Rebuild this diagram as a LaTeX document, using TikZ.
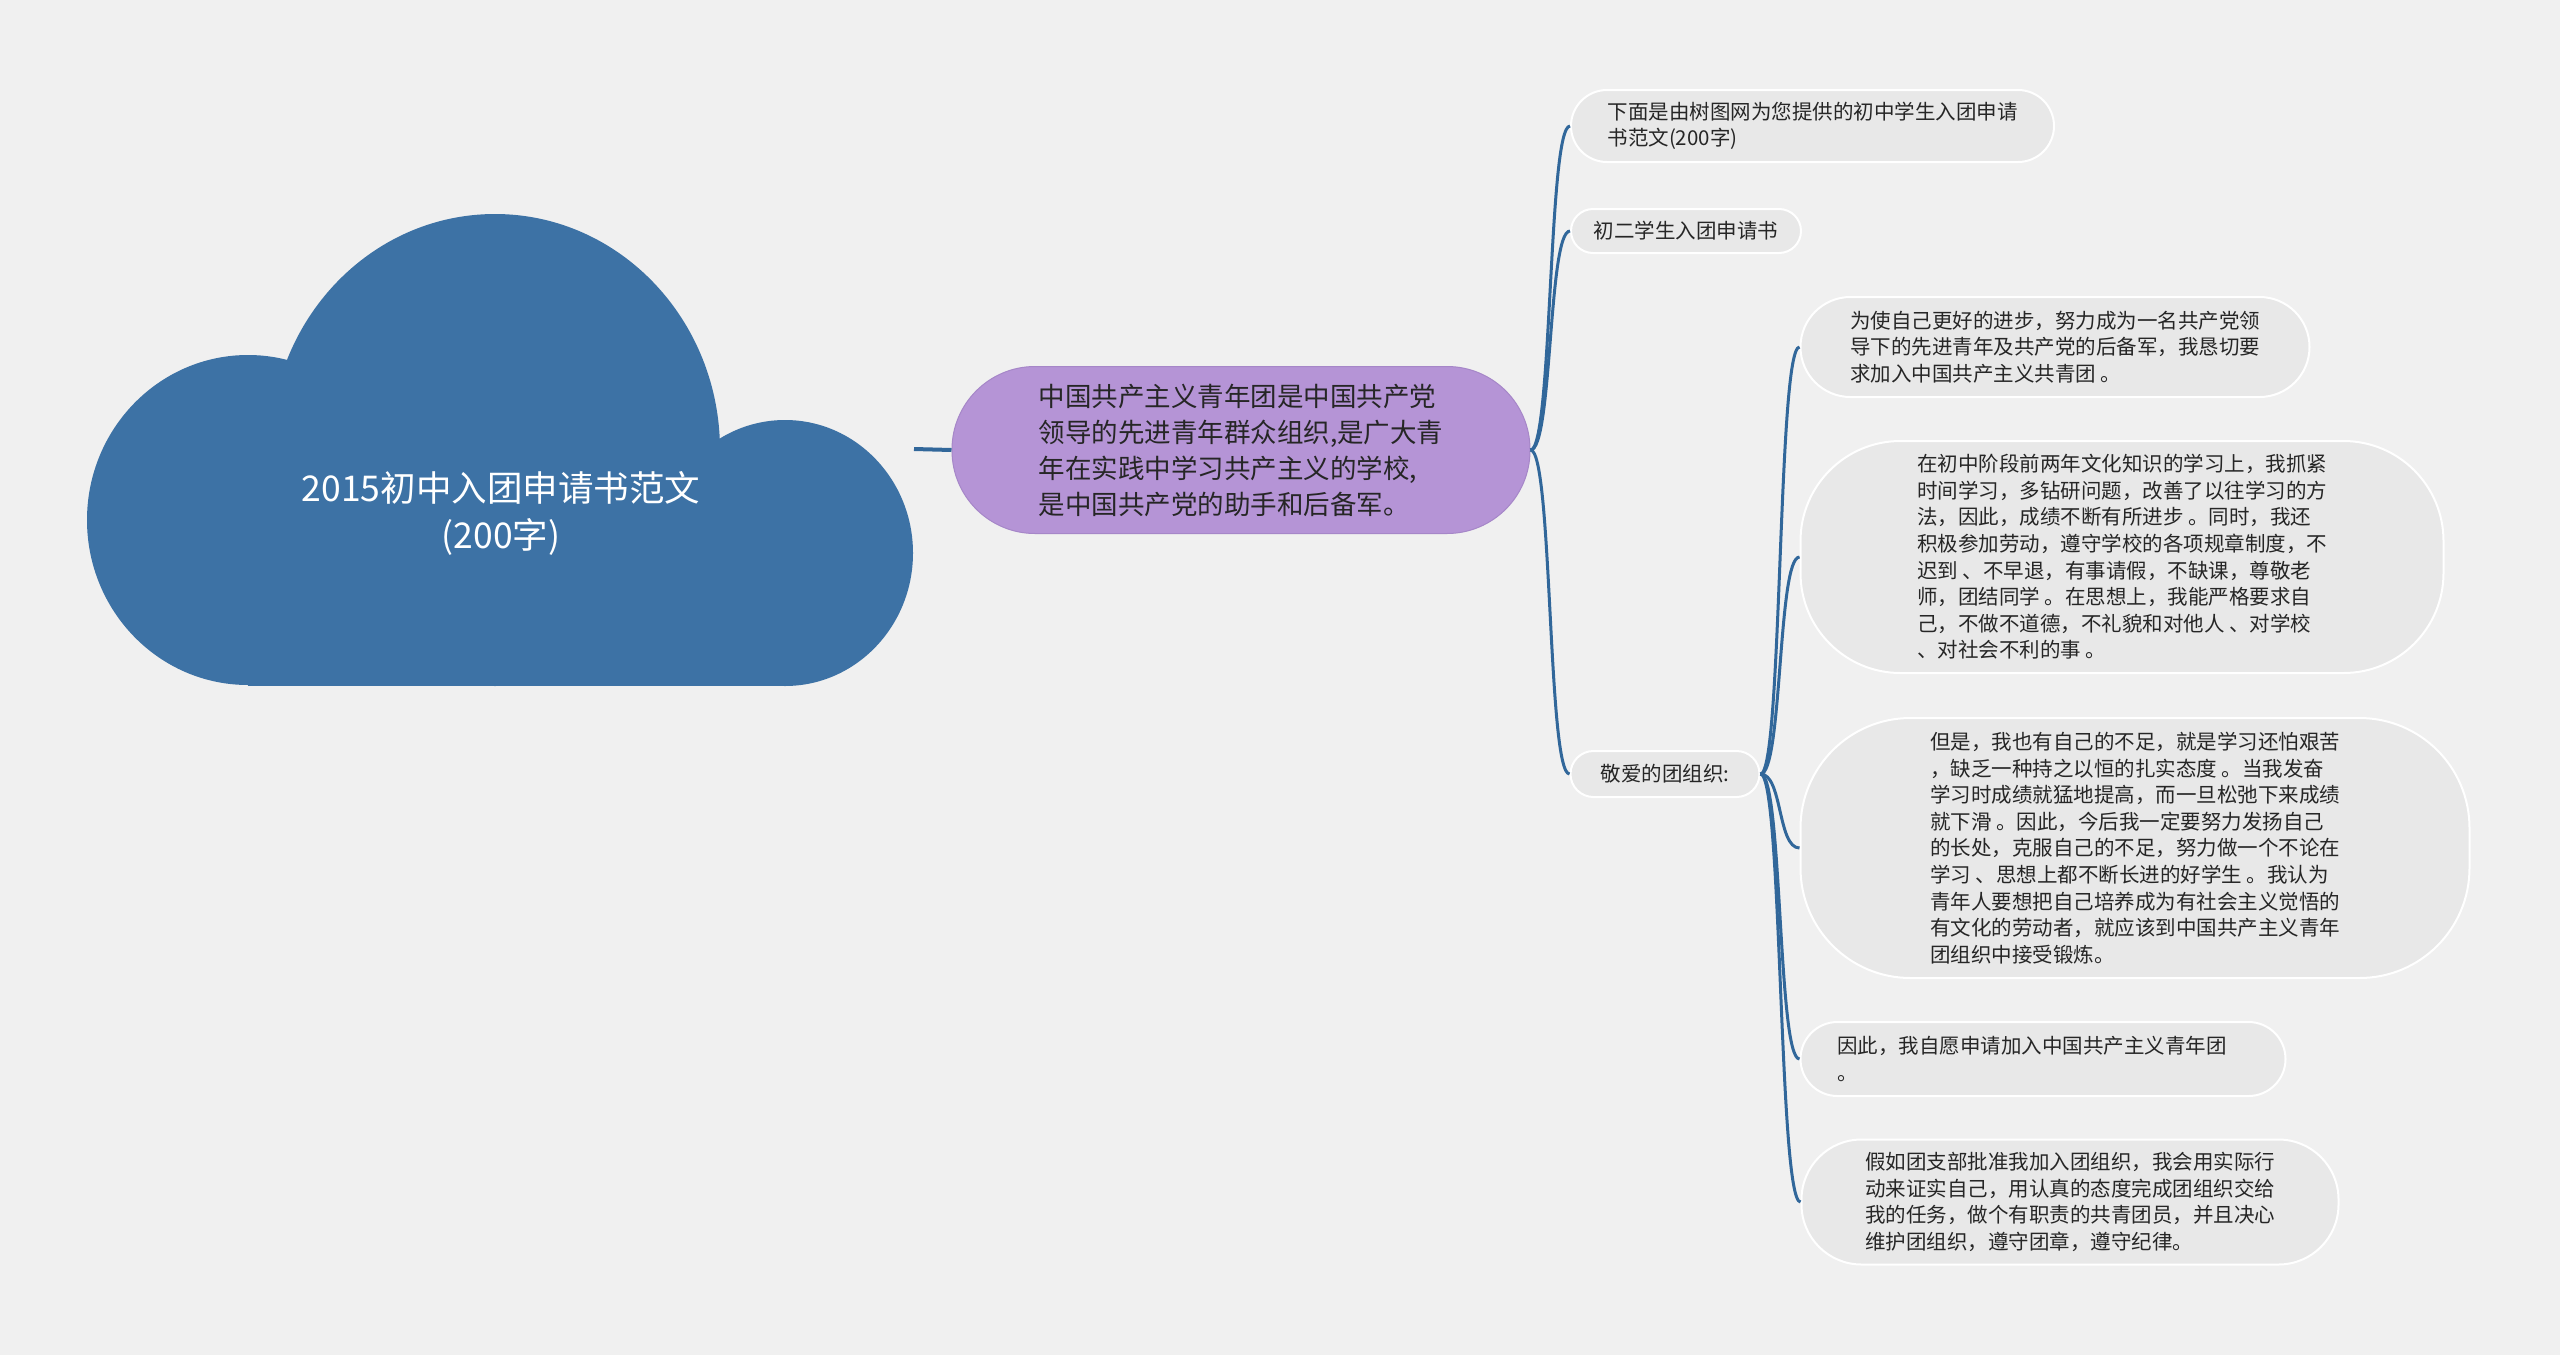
\documentclass[tikz,border=0pt]{standalone}
\usepackage{fontspec}
\setmainfont{Noto Sans CJK SC}
\usetikzlibrary{calc}
\definecolor{bgc}{HTML}{F0F0F0}
\definecolor{cloudc}{HTML}{3D72A5}
\definecolor{purplec}{HTML}{B594D6}
\definecolor{purpleb}{HTML}{A687C8}
\definecolor{leafc}{HTML}{E8E8E8}
\definecolor{linkc}{HTML}{31679A}
\definecolor{txtc}{HTML}{262626}
\tikzset{
  leaf/.style={draw=white, line width=2pt, fill=leafc, align=left, text=txtc,
    font=\fontsize{20.5}{26.6}\selectfont, inner sep=0pt},
  conn/.style={draw=linkc, line width=3pt},
}
\begin{document}
\begin{tikzpicture}[x=1pt,y=-1pt]
\fill[bgc] (0,0) rectangle (2560,1355);
\useasboundingbox (0,0) rectangle (2560,1355);
% cloud
\fill[cloudc] (248,520) ellipse [x radius=161, y radius=165];
\fill[cloudc] (495,450) ellipse [x radius=225, y radius=236];
\fill[cloudc] (785,553) ellipse [x radius=128, y radius=133];
\fill[cloudc] (248,520) rectangle (785,686);
\node[text=white, align=center, font=\fontsize{35.5}{47}\selectfont, inner sep=0pt] (title) at (501,513) {2015初中入团申请书范文\\(200字)};
\coordinate (cl) at (914,449);
% purple
\node[draw=purpleb, line width=1pt, fill=purplec, align=left, text=txtc,
  font=\fontsize{26.5}{36}\selectfont, inner sep=0pt,
  minimum width=578, minimum height=167, rounded corners=83] (pp) at (1241,450)
  {中国共产主义青年团是中国共产党\\领导的先进青年群众组织,是广大青\\年在实践中学习共产主义的学校,\\是中国共产党的助手和后备军。};
\draw[draw=linkc, line width=4pt] (cl) -- (pp.west);
% level 2
\node[leaf, minimum width=483, minimum height=72, rounded corners=36] (n1) at (1812.5,126)
  {下面是由树图网为您提供的初中学生入团申请\\书范文(200字)};
\node[leaf, minimum width=230, minimum height=44, rounded corners=22] (n2) at (1686,231)
  {初二学生入团申请书};
\node[leaf, minimum width=189, minimum height=46, rounded corners=23] (n3) at (1665,774)
  {敬爱的团组织:};
% level 3
\node[leaf, minimum width=509, minimum height=100, rounded corners=50] (m1) at (2055,347)
  {为使自己更好的进步，努力成为一名共产党领\\导下的先进青年及共产党的后备军，我恳切要\\求加入中国共产主义共青团 。};
\node[leaf, minimum width=643, minimum height=232, rounded corners=100] (m2) at (2122,557)
  {在初中阶段前两年文化知识的学习上，我抓紧\\时间学习，多钻研问题，改善了以往学习的方\\法，因此，成绩不断有所进步 。同时，我还\\积极参加劳动，遵守学校的各项规章制度，不\\迟到 、不早退，有事请假，不缺课，尊敬老\\师，团结同学 。在思想上，我能严格要求自\\己，不做不道德，不礼貌和对他人 、对学校\\、对社会不利的事 。};
\node[leaf, minimum width=669, minimum height=260, rounded corners=110] (m3) at (2135,848)
  {但是，我也有自己的不足，就是学习还怕艰苦\\，缺乏一种持之以恒的扎实态度 。当我发奋\\学习时成绩就猛地提高，而一旦松弛下来成绩\\就下滑 。因此，今后我一定要努力发扬自己\\的长处，克服自己的不足，努力做一个不论在\\学习 、思想上都不断长进的好学生 。我认为\\青年人要想把自己培养成为有社会主义觉悟的\\有文化的劳动者，就应该到中国共产主义青年\\团组织中接受锻炼。};
\node[leaf, minimum width=485, minimum height=74, rounded corners=37] (m4) at (2043,1059)
  {因此，我自愿申请加入中国共产主义青年团\hspace*{22pt}\\。};
\node[leaf, minimum width=537, minimum height=125, rounded corners=60] (m5) at (2070,1202)
  {假如团支部批准我加入团组织，我会用实际行\\动来证实自己，用认真的态度完成团组织交给\\我的任务，做个有职责的共青团员，并且决心\\维护团组织，遵守团章，遵守纪律。};
% connectors
\foreach \c in {n1,n2,n3}
  \draw[conn] (pp.east) .. controls +(22,0) and +(-22,0) .. (\c.west);
\foreach \c in {m1,m2,m3,m4,m5}
  \draw[conn] (n3.east) .. controls +(22,0) and +(-22,0) .. (\c.west);
\end{tikzpicture}
\end{document}
